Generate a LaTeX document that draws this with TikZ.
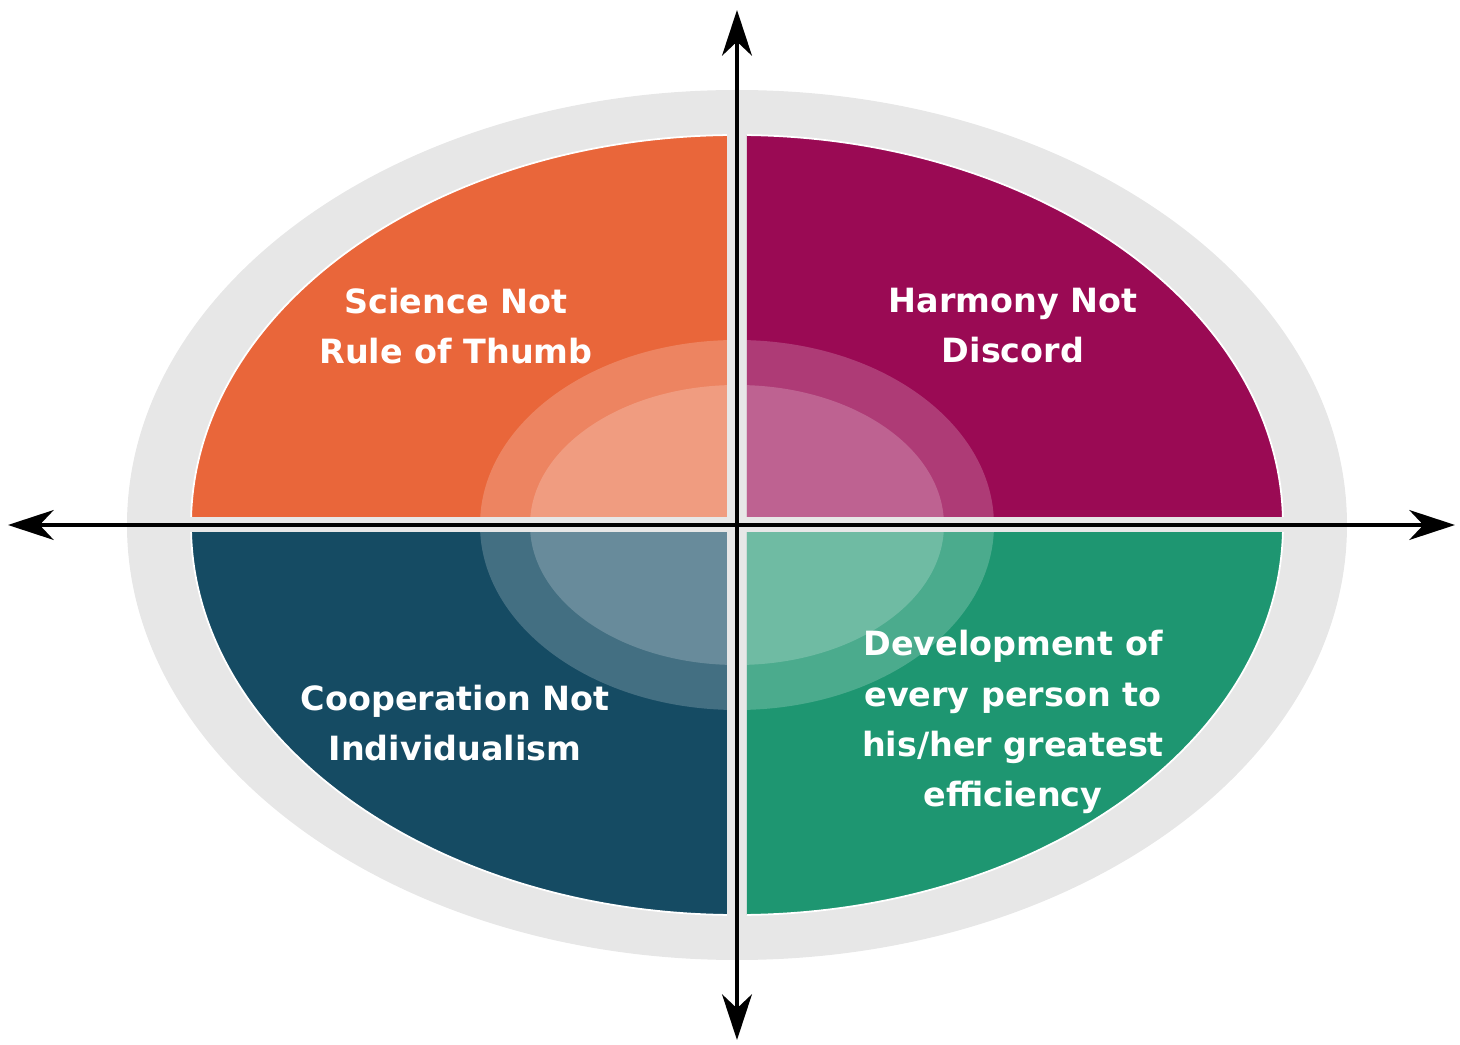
\documentclass[tikz,border=0pt]{standalone}
\usepackage{fontspec}
\setmainfont{DejaVu Sans}
\usepackage{tikz}
\usetikzlibrary{arrows.meta,positioning}
\definecolor{ringgrey}{gray}{0.905}
\definecolor{sciorange}{RGB}{233,102,58}
\definecolor{harmmag}{RGB}{154,10,84}
\definecolor{coopblue}{RGB}{21,75,99}
\definecolor{devgreen}{RGB}{30,150,113}

\begin{document}
\begin{tikzpicture}
\tikzstyle{label}=[text=white,font=\bfseries\fontsize{19}{28.5}\selectfont,align=center]
\tikzstyle{axis}=[line width=2pt,{Stealth[length=26pt,width=17pt,inset=8pt]}-{Stealth[length=26pt,width=17pt,inset=8pt]}]
\tikzstyle{glow}=[fill=white,fill opacity=0.2]
\useasboundingbox (-14.74,-10.4) rectangle (14.46,10.5);
\fill [ringgrey] (0,0) ellipse [x radius=12.2,y radius=8.7];
% four quarters with a gap along the axes
\foreach \sx/\sy/\col in {-1/1/sciorange,1/1/harmmag,-1/-1/coopblue,1/-1/devgreen}{
  \begin{scope}
  \clip (\sx*0.2,\sy*0.16) rectangle (\sx*13,\sy*9);
  \fill [\col,draw=white,line width=1pt] (0,0) ellipse [x radius=10.92,y radius=7.8];
  \fill [glow] (0,0) ellipse [x radius=5.14,y radius=3.7];
  \fill [glow] (0,0) ellipse [x radius=4.14,y radius=2.8];
  \end{scope}
}
\node [label] (sci) at (-5.62,3.98) {Science Not\\Rule of Thumb};
\node [label] (harm) at (5.52,3.98) {Harmony Not\\Discord};
\node [label] (coop) at (-5.64,-3.96) {Cooperation Not\\Individualism};
\node [label] (dev) at (5.52,-3.94) {Development of\\every person to\\his/her greatest\\efficiency};
\coordinate (west) at (-14.58,0);
\coordinate (east) at (14.36,0);
\coordinate (north) at (0,10.3);
\coordinate (south) at (0,-10.3);
\draw [axis] (west) -- (east);
\draw [axis] (south) -- (north);
\end{tikzpicture}
\end{document}
